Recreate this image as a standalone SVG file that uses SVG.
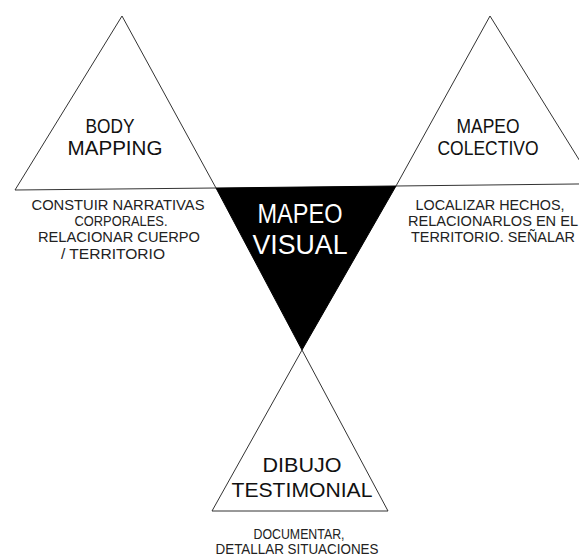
<svg xmlns="http://www.w3.org/2000/svg" width="579" height="558" viewBox="0 0 579 558">
<style>
.tri{fill:#fff;stroke:#333;stroke-width:1;stroke-linejoin:miter}
.blk{fill:#000;stroke:#000;stroke-width:1}
.t{font-family:"Liberation Sans",Arial,sans-serif;fill:#111;text-anchor:middle}
.big{font-size:21px}
.mid{font-size:27px;fill:#fff}
.sm{font-size:14.5px;fill:#222}
</style>
<rect width="579" height="558" fill="#fff"/>
<g id="connectors"></g>
<g id="body-mapping">
<polygon class="tri" points="15,190 122,16 216,188"/>
<text class="t big" x="110" y="133" textLength="49" lengthAdjust="spacingAndGlyphs">BODY</text>
<text class="t big" x="115" y="155" textLength="95" lengthAdjust="spacingAndGlyphs">MAPPING</text>
<text class="t sm" x="118" y="210" textLength="173" lengthAdjust="spacingAndGlyphs">CONSTUIR NARRATIVAS</text>
<text class="t sm" x="121" y="226" textLength="93" lengthAdjust="spacingAndGlyphs">CORPORALES.</text>
<text class="t sm" x="119" y="242" textLength="162" lengthAdjust="spacingAndGlyphs">RELACIONAR CUERPO</text>
<text class="t sm" x="113" y="259" textLength="104" lengthAdjust="spacingAndGlyphs">/ TERRITORIO</text>
</g>
<g id="mapeo-colectivo">
<polygon class="tri" points="396,186 490,16 594,183.8"/>
<text class="t big" x="488" y="133" textLength="63" lengthAdjust="spacingAndGlyphs">MAPEO</text>
<text class="t big" x="488" y="155" textLength="101" lengthAdjust="spacingAndGlyphs">COLECTIVO</text>
<text class="t sm" x="490" y="210" textLength="149" lengthAdjust="spacingAndGlyphs">LOCALIZAR HECHOS,</text>
<text class="t sm" x="493" y="226" textLength="170" lengthAdjust="spacingAndGlyphs">RELACIONARLOS EN EL</text>
<text class="t sm" x="493" y="242" textLength="164" lengthAdjust="spacingAndGlyphs">TERRITORIO. SEÑALAR</text>
</g>
<g id="mapeo-visual">
<polygon class="blk" points="216,188 396,186 302,350"/>
<text class="t mid" x="300" y="223" textLength="85" lengthAdjust="spacingAndGlyphs">MAPEO</text>
<text class="t mid" x="300" y="254" textLength="95" lengthAdjust="spacingAndGlyphs">VISUAL</text>
</g>
<g id="dibujo-testimonial">
<polygon class="tri" points="302,350 212,511 388,511"/>
<text class="t big" x="302" y="472" textLength="79" lengthAdjust="spacingAndGlyphs">DIBUJO</text>
<text class="t big" x="302" y="497" textLength="141" lengthAdjust="spacingAndGlyphs">TESTIMONIAL</text>
<text class="t sm" x="299" y="539" textLength="91" lengthAdjust="spacingAndGlyphs">DOCUMENTAR,</text>
<text class="t sm" x="297" y="554" textLength="163" lengthAdjust="spacingAndGlyphs">DETALLAR SITUACIONES</text>
</g>
</svg>
